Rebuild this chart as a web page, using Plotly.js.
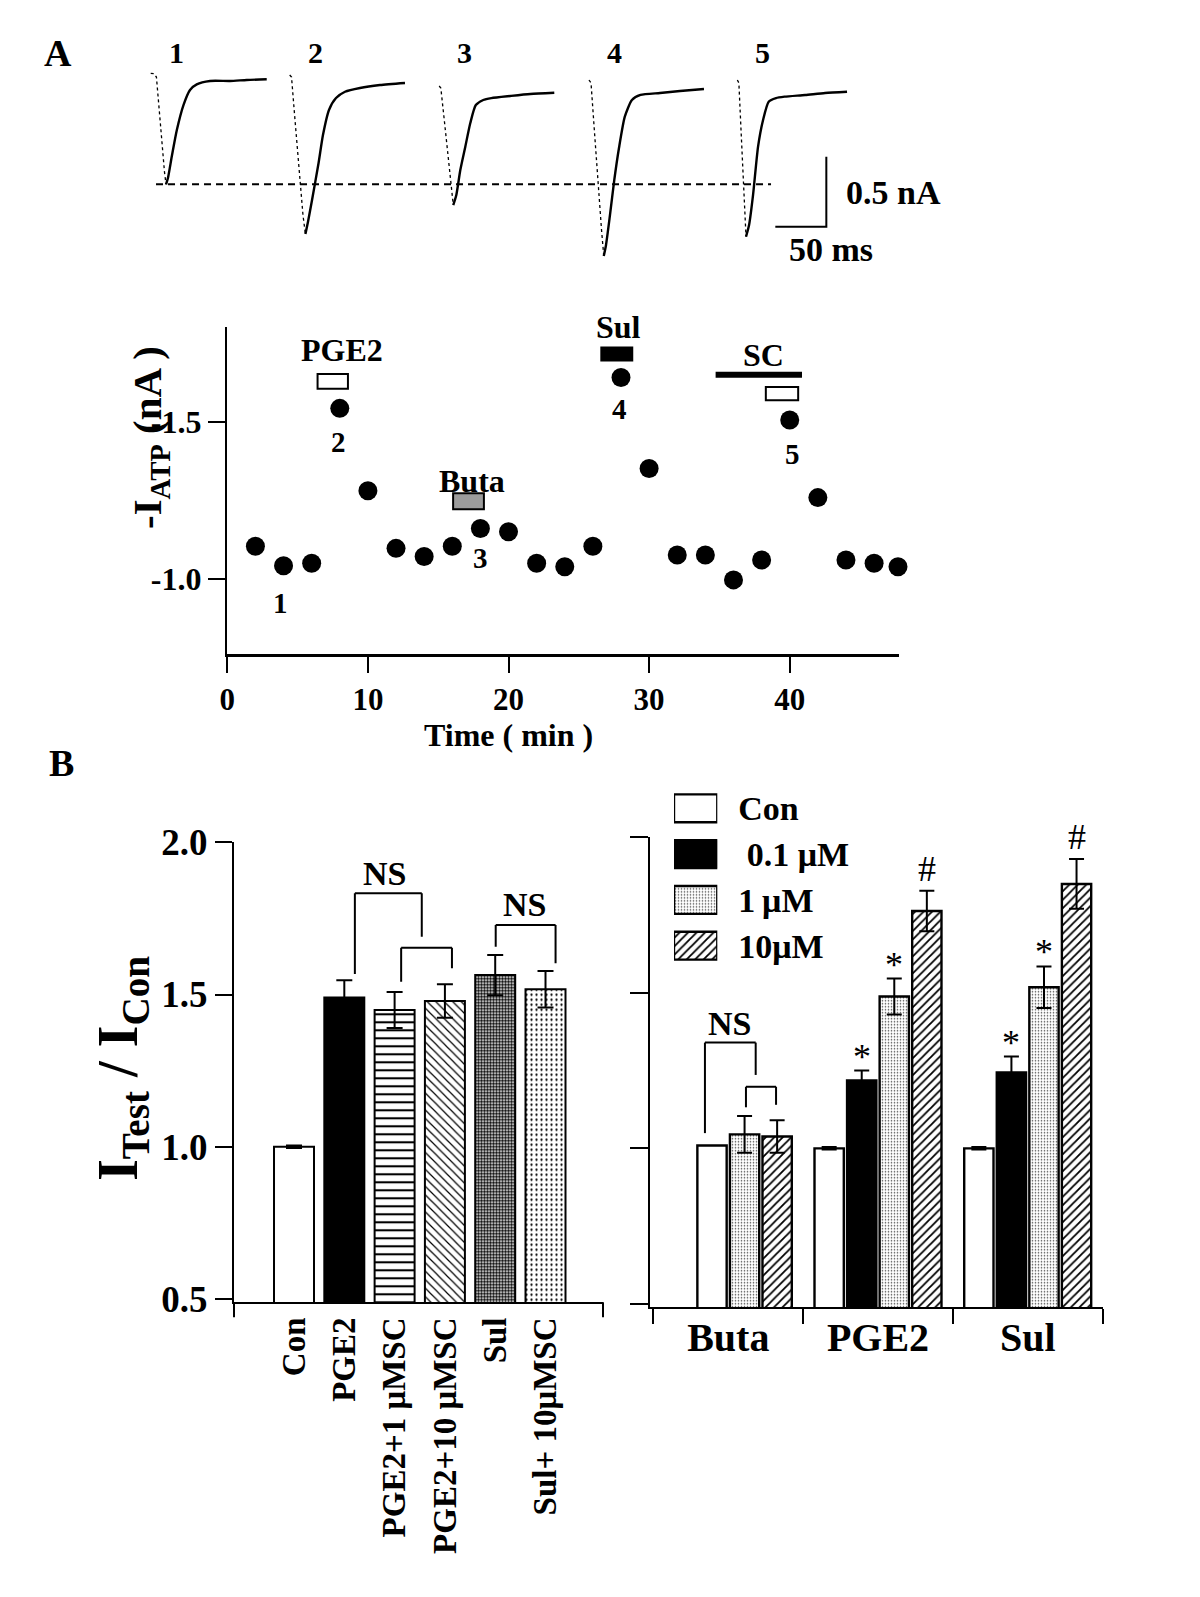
<!DOCTYPE html>
<html><head><meta charset="utf-8">
<script src="https://cdn.plot.ly/plotly-3.0.1.min.js"></script>
<style>html,body{margin:0;padding:0;background:#fff}#chart{width:1200px;height:1597px}</style>
</head><body><div id="chart"></div>
<script>
// ===== Panel A, top: ATP-evoked current traces (t in ms from trace start, I in nA from baseline)
const trace1T = [0, 3.2, 5.6, 8.1, 11.1, 13.5, 15.0, 16.9, 20.9, 25.6, 32.1, 38.5, 45.1, 58.1, 77.7, 94.1, 113.7];
const trace1I = [0.048, 0.046, 0.021, -0.214, -0.464, -0.657, -0.745, -0.70, -0.536, -0.357, -0.179, -0.071, -0.031, -0.007, -0.007, 0, 0.005];
const trace2T = [0, 1.8, 5.2, 9.1, 13.0, 15.4, 17.9, 21.9, 28.3, 32.6, 38.5, 45.4, 54.2, 68.9, 88.5, 113.0];
const trace2I = [0.036, 0.021, -0.286, -0.643, -0.964, -1.10, -1.014, -0.857, -0.593, -0.393, -0.214, -0.129, -0.084, -0.057, -0.036, -0.021];
const trace3T = [0, 1.6, 5.0, 8.9, 11.9, 13.8, 16.8, 20.7, 25.6, 30.5, 35.9, 43.2, 51.1, 69.7, 89.3, 112.8];
const trace3I = [-0.043, -0.057, -0.286, -0.571, -0.786, -0.893, -0.821, -0.643, -0.476, -0.307, -0.179, -0.143, -0.129, -0.114, -0.10, -0.091];
const trace4T = [0, 2.0, 4.9, 8.8, 12.3, 14.5, 16.7, 20.6, 24.8, 29.4, 35.1, 42.1, 50.5, 69.6, 89.2, 112.7];
const trace4I = [0, -0.021, -0.321, -0.75, -1.071, -1.257, -1.178, -0.964, -0.714, -0.486, -0.262, -0.143, -0.107, -0.093, -0.079, -0.064];
const trace5T = [0, 1.5, 3.6, 6.0, 7.5, 8.5, 11.5, 15.4, 20.3, 25.2, 30.7, 37.9, 46.3, 66.4, 86.0, 107.5];
const trace5I = [0, -0.021, -0.357, -0.786, -1.014, -1.119, -1.036, -0.821, -0.476, -0.286, -0.155, -0.129, -0.119, -0.107, -0.093, -0.084];
const traceOffsetMs = [10.5, 146.7, 293.2, 440.0, 585.4];
const traceLabels = ['1', '2', '3', '4', '5'];
const scaleBarMs = 50, scaleBarNA = 0.5;

// ===== Panel A, bottom: time course of -I_ATP
const timeMin = [2, 4, 6, 8, 10, 12, 14, 16, 18, 20, 22, 24, 26, 28, 30, 32, 34, 36, 38, 40, 42, 44, 46, 47.7];
const iAtp = [-1.105, -1.043, -1.051, -1.542, -1.281, -1.098, -1.072, -1.105, -1.161, -1.151, -1.051, -1.040,
              -1.105, -1.640, -1.351, -1.077, -1.077, -0.998, -1.061, -1.505, -1.259, -1.061, -1.051, -1.040];
const drugNames  = ['PGE2', 'Buta', 'Sul', 'SC', ''];
const drugStart  = [6.42, 16.06, 26.6, 34.8, 38.3];
const drugEnd    = [8.58, 18.25, 28.8, 40.8, 40.6];
const drugLow    = [-1.604, -1.222, -1.694, -1.642, -1.568];
const drugHigh   = [-1.651, -1.273, -1.735, -1.655, -1.610];
const drugFill   = ['white', '#9c9c9c', 'black', 'black', 'white'];
const drugLabelT = [8.14, 17.4, 27.79, 38.14];
const drugLabelV = [-1.727, -1.312, -1.801, -1.712];
const pointLabelT = [3.8, 7.9, 18.0, 27.9, 40.2];
const pointLabelV = [-0.925, -1.434, -1.068, -1.539, -1.398];

// ===== Panel B, left
const leftCats = ['Con', 'PGE2', 'PGE2+1 \u03bcMSC', 'PGE2+10 \u03bcMSC', 'Sul', 'Sul+ 10\u03bcMSC'];
const leftVals = [1.0, 1.490, 1.449, 1.479, 1.564, 1.517];
const leftErr  = [0.004, 0.057, 0.059, 0.055, 0.066, 0.060];
// brackets: [xLeft, xRight, yTop, yLeftEnd, yRightEnd] (category index, ratio)
const leftBrackets = [[1.21, 2.54, 1.833, 1.567, 1.690], [2.13, 3.14, 1.654, 1.542, 1.586], [4.01, 5.20, 1.728, 1.657, 1.603]];
const leftNS = [[1.80, 1.899], [4.58, 1.797]];

// ===== Panel B, right
const rightGroups = ['Buta', 'PGE2', 'Sul'];
const legendLabels = ['Con', '\u00a00.1 \u03bcM', '1\u2009\u03bcM', '10\u03bcM'];
const conVals = [null, 1.0, 1.0];
const conErr  = [0, 0.004, 0.004];
const butaConVal = [1.009, null, null];
const v01 = [null, 1.218, 1.244];
const e01 = [0, 0.032, 0.051];
const v1  = [1.045, 1.488, 1.518];
const e1  = [0.059, 0.058, 0.067];
const v10 = [1.038, 1.763, 1.850];
const e10 = [0.052, 0.065, 0.080];
const rightBrackets = [[-0.156, 0.183, 1.340, 1.049, 1.236], [0.118, 0.319, 1.198, 1.132, 1.140]];
const rightNS = [[0.005, 1.403]];
// significance marks: [group index, slot index (0..3), symbol]
const sigMarks = [[1, 1, '*'], [1, 2, '*'], [1, 3, '#'], [2, 1, '*'], [2, 2, '*'], [2, 3, '#']];

// ---------- helpers
const W = 1200, H = 1597;
const fx = p => p / W;
const fy = p => 1 - p / H;
const FONT = 'Liberation Serif, Times New Roman, serif';
const bold = (size) => ({family: FONT, size: size, color: 'black', weight: 'bold'});
const reg = (size) => ({family: FONT, size: size, color: 'black'});

const data = [];
const shapes = [];
const annotations = [];

// fill styles
const S_WHITE = {color: 'white'};
const S_BLACK = {color: 'black'};
const pat = (shape, size, solidity, fg) => ({color: 'white', pattern: {shape, size, solidity, fgcolor: fg, bgcolor: 'white', fillmode: 'replace'}});
const S_HLINE = pat('-', 8, 0.26, 'black');
const S_BSLASH = pat('\\', 6, 0.2, 'black');
const S_DARKDOT = pat('.', 3, 0.62, 'black');
const S_LIGHTDOT = pat('.', 5, 0.16, 'black');
const S_FINEDOT = pat('.', 3, 0.22, '#444');
const S_HATCH = pat('/', 6, 0.3, 'black');
const leftStyles = [S_WHITE, S_BLACK, S_HLINE, S_BSLASH, S_DARKDOT, S_LIGHTDOT];
const legendStyles = [S_WHITE, S_BLACK, S_FINEDOT, S_HATCH];

// ---- top traces
const tT = [trace1T, trace2T, trace3T, trace4T, trace5T];
const tI = [trace1I, trace2I, trace3I, trace4I, trace5I];
tT.forEach((t, n) => {
  const c = tI[n], off = traceOffsetMs[n];
  const k = c.indexOf(Math.min(...c));
  data.push({type: 'scatter', mode: 'lines', xaxis: 'x', yaxis: 'y', x: t.slice(0, k + 1).map(v => v + off), y: c.slice(0, k + 1),
    line: {color: 'black', width: 1.3, dash: 'dot'}, hoverinfo: 'skip'});
  data.push({type: 'scatter', mode: 'lines', xaxis: 'x', yaxis: 'y', x: t.slice(k).map(v => v + off), y: c.slice(k),
    line: {color: 'black', width: 2.4, shape: 'spline', smoothing: 0.6}, hoverinfo: 'skip'});
  annotations.push({xref: 'x', yref: 'y', x: off + 25, y: 0.193, text: traceLabels[n], showarrow: false, font: bold(30)});
});
// dashed reference line at the peak of trace 1
const peak1 = Math.min(...trace1I);
data.push({type: 'scatter', mode: 'lines', xaxis: 'x', yaxis: 'y', x: [15.7, 618.4], y: [peak1, peak1],
  line: {color: 'black', width: 2, dash: '7px,5px'}, hoverinfo: 'skip'});
// scale bar
const sbX = 672.6, sbY = -1.048;
data.push({type: 'scatter', mode: 'lines', xaxis: 'x', yaxis: 'y', x: [sbX - scaleBarMs, sbX, sbX], y: [sbY, sbY, sbY + scaleBarNA],
  line: {color: 'black', width: 2}, hoverinfo: 'skip'});
annotations.push({xref: 'x', yref: 'y', x: sbX + 17, y: sbY + scaleBarNA / 2 - 0.005, xanchor: 'left', yanchor: 'middle', text: scaleBarNA + ' nA', showarrow: false, font: bold(34)});
annotations.push({xref: 'x', yref: 'y', x: sbX + 5, y: sbY - 0.165, xanchor: 'center', yanchor: 'middle', text: scaleBarMs + ' ms', showarrow: false, font: bold(34)});

// ---- time course
data.push({type: 'scatter', mode: 'markers', xaxis: 'x2', yaxis: 'y2', x: timeMin, y: iAtp, cliponaxis: false,
  marker: {color: 'black', size: 19}, hoverinfo: 'skip'});
drugNames.forEach((nm, i) => {
  shapes.push({type: 'rect', xref: 'x2', yref: 'y2', x0: drugStart[i], x1: drugEnd[i], y0: drugLow[i], y1: drugHigh[i],
    line: {color: 'black', width: 2}, fillcolor: drugFill[i]});
  if (nm) annotations.push({xref: 'x2', yref: 'y2', x: drugLabelT[i], y: drugLabelV[i], text: nm, showarrow: false, font: bold(32)});
});
traceLabels.forEach((lb, i) => annotations.push({xref: 'x2', yref: 'y2', x: pointLabelT[i], y: pointLabelV[i], text: lb, showarrow: false, font: bold(29)}));

// ---- left bar chart (one trace per bar so each can carry its own fill pattern)
leftCats.forEach((cat, i) => {
  data.push({type: 'bar', xaxis: 'x3', yaxis: 'y3', x: [cat], y: [leftVals[i]], width: 0.795, offsetgroup: 'L',
    error_y: {type: 'data', array: [leftErr[i]], visible: true, color: 'black', thickness: 2, width: 8},
    marker: Object.assign({line: {color: 'black', width: 2}}, leftStyles[i]), hoverinfo: 'skip'});
});

function bracket(xa, ya, b) {
  const [xl, xr, top, yl, yr] = b;
  const L = (x0, y0, x1, y1) => shapes.push({type: 'line', xref: xa, yref: ya, x0, y0, x1, y1, line: {color: 'black', width: 2}});
  L(xl, yl, xl, top); L(xl, top, xr, top); L(xr, top, xr, yr);
}
leftBrackets.forEach(b => bracket('x3', 'y3', b));
leftNS.forEach(p => annotations.push({xref: 'x3', yref: 'y3', x: p[0], y: p[1], text: 'NS', showarrow: false, font: bold(34)}));
// end ticks of left category axis
[0, 1].forEach(d => shapes.push({type: 'line', xref: 'x3 domain', yref: 'y3 domain', x0: d, x1: d, y0: 0, y1: -15 / 460, line: {color: 'black', width: 2}}));

// ---- right bar chart (grouped)
const errOpt = (arr) => ({type: 'data', array: arr, visible: true, color: 'black', thickness: 2, width: 7.5});
const outline = {color: 'black', width: 2.4};
const rmark = (st) => Object.assign({line: outline}, st);
data.push({type: 'bar', xaxis: 'x4', yaxis: 'y4', x: rightGroups, y: conVals, offsetgroup: 'g1', error_y: errOpt(conErr),
  marker: rmark(S_WHITE), hoverinfo: 'skip'});
data.push({type: 'bar', xaxis: 'x4', yaxis: 'y4', x: rightGroups, y: butaConVal, offsetgroup: 'g2',
  marker: rmark(S_WHITE), hoverinfo: 'skip'});
data.push({type: 'bar', xaxis: 'x4', yaxis: 'y4', x: rightGroups, y: v01, offsetgroup: 'g2', error_y: errOpt(e01),
  marker: rmark(S_BLACK), hoverinfo: 'skip'});
data.push({type: 'bar', xaxis: 'x4', yaxis: 'y4', x: rightGroups, y: v1, offsetgroup: 'g3', error_y: errOpt(e1),
  marker: rmark(S_FINEDOT), hoverinfo: 'skip'});
data.push({type: 'bar', xaxis: 'x4', yaxis: 'y4', x: rightGroups, y: v10, offsetgroup: 'g4', error_y: errOpt(e10),
  marker: rmark(S_HATCH), hoverinfo: 'skip'});
rightBrackets.forEach(b => bracket('x4', 'y4', b));
rightNS.forEach(p => annotations.push({xref: 'x4', yref: 'y4', x: p[0], y: p[1], text: 'NS', showarrow: false, font: bold(34)}));
const slotW = (1 - 0.13) / 4;
const rightV = [conVals, v01, v1, v10], rightE = [conErr, e01, e1, e10];
sigMarks.forEach(([g, s, sym]) => {
  annotations.push({xref: 'x4', yref: 'y4', x: g + (s - 1.5) * slotW, y: rightV[s][g] + rightE[s][g], yanchor: 'bottom',
    yshift: sym === '#' ? 0 : -8, text: sym, showarrow: false, font: reg(36)});
});

// ---- legend swatches (one horizontal bar per entry)
legendLabels.forEach((lb, i) => {
  data.push({type: 'bar', orientation: 'h', xaxis: 'x5', yaxis: 'y5', x: [1], y: [lb], base: 0, width: 0.61, offsetgroup: 'LG',
    marker: Object.assign({line: {color: 'black', width: 2.4}}, legendStyles[i]), hoverinfo: 'skip'});
});

// ---- titles and panel letters
const pAnn = (px, py, text, font, extra) => annotations.push(Object.assign({xref: 'paper', yref: 'paper', x: fx(px), y: fy(py),
  xanchor: 'center', yanchor: 'middle', text, showarrow: false, font}, extra || {}));
pAnn(57.5, 53.5, 'A', bold(38));
pAnn(61, 763, 'B', bold(38));
pAnn(150, 438, '-I<sub>ATP</sub> (nA )', bold(41), {textangle: -90});
pAnn(508, 735.5, 'Time ( min )', bold(32));
pAnn(122, 1069, 'I<sub>Test</sub> / I<sub>Con</sub>', bold(56), {textangle: -90});

const axBase = {showgrid: false, zeroline: false, linecolor: 'black', tickcolor: 'black', fixedrange: true};
const layout = {
  width: W, height: H, margin: {l: 0, r: 0, t: 0, b: 0}, paper_bgcolor: 'white', plot_bgcolor: 'rgba(0,0,0,0)',
  showlegend: false, barmode: 'group', bargap: 0.13, bargroupgap: 0.1,
  xaxis: {domain: [fx(140), fx(960)], range: [0, 803.6], visible: false, anchor: 'y'},
  yaxis: {domain: [fy(270), fy(40)], range: [-1.357, 0.2857], visible: false, anchor: 'x'},
  xaxis2: Object.assign({}, axBase, {domain: [fx(227.3), fx(898.7)], range: [0, 47.75], anchor: 'y2', showline: true, linewidth: 2.5,
    ticks: 'outside', ticklen: 16, tickwidth: 2, tickvals: [0, 10, 20, 30, 40], tickfont: bold(31)}),
  yaxis2: Object.assign({}, axBase, {domain: [fy(654), fy(326.7)], range: [-0.763, -1.801], anchor: 'x2', showline: true, linewidth: 2.5,
    ticks: 'outside', ticklen: 17, tickwidth: 2, tickvals: [-1.0, -1.5], ticktext: ['-1.0', '-1.5'], tickfont: bold(32)}),
  xaxis3: Object.assign({}, axBase, {domain: [fx(234), fx(603)], range: [-1.193, 6.143], type: 'category', categoryorder: 'array', categoryarray: leftCats,
    anchor: 'y3', showline: true, linewidth: 2, ticks: '', tickangle: -90, tickfont: bold(33), ticklabelstandoff: 0}),
  yaxis3: Object.assign({}, axBase, {domain: [fy(1302.3), fy(842.3)], range: [0.489, 2.0], anchor: 'x3', showline: true, linewidth: 2,
    ticks: 'outside', ticklen: 17, tickwidth: 2, tickvals: [0.5, 1.0, 1.5, 2.0], ticktext: ['0.5', '1.0', '1.5', '2.0'], tickfont: bold(37)}),
  xaxis4: Object.assign({}, axBase, {domain: [fx(650), fx(1103)], range: [-0.523, 2.503], type: 'category', categoryorder: 'array', categoryarray: rightGroups,
    anchor: 'y4', showline: true, linewidth: 2, ticks: 'outside', tickson: 'boundaries', ticklen: 15, tickwidth: 2, tickfont: bold(40), ticklabelstandoff: -6}),
  yaxis4: Object.assign({}, axBase, {domain: [fy(1307.3), fy(837.3)], range: [0.489, 2.0], anchor: 'x4', showline: true, linewidth: 2,
    ticks: 'outside', ticklen: 18, tickwidth: 2, tickvals: [0.5, 1.0, 1.5, 2.0], showticklabels: false}),
  xaxis5: {domain: [fx(674), fx(717.3)], range: [0, 1], visible: false, anchor: 'y5', fixedrange: true},
  yaxis5: Object.assign({}, axBase, {domain: [fy(968.6), fy(785.4)], type: 'category', categoryorder: 'array', categoryarray: legendLabels,
    range: [3.5, -0.5], anchor: 'x5', side: 'right', showline: false, ticks: '', tickfont: bold(34), ticklabelstandoff: 20}),
  shapes: shapes, annotations: annotations
};
Plotly.newPlot('chart', data, layout, {staticPlot: true, displayModeBar: false});
</script></body></html>
